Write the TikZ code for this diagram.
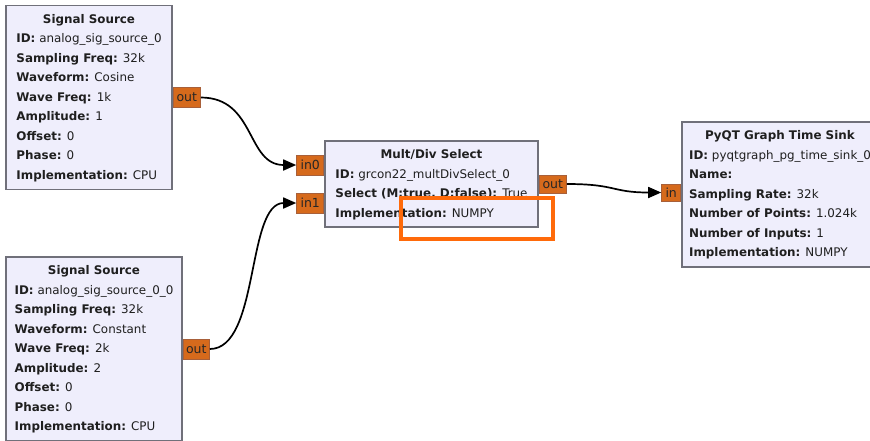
\documentclass[tikz,border=0pt]{standalone}
\usepackage{fontspec}
\setmainfont{DejaVu Sans}
\usetikzlibrary{positioning,arrows.meta}
\definecolor{blkfill}{RGB}{239,238,252}
\definecolor{blkline}{RGB}{112,112,122}
\definecolor{portfill}{RGB}{214,106,28}
\definecolor{portline}{RGB}{168,96,58}
\definecolor{hlcolor}{RGB}{255,106,10}
\newcommand{\prop}[2]{\textbf{#1:} #2}
\newcommand{\ttl}[1]{\multicolumn{1}{@{}c@{}}{\textbf{#1}}}
\tikzset{
  block/.style={rectangle,draw=blkline,fill=blkfill,line width=1.6pt,inner sep=0pt,text=black!88,font=\fontsize{11.9}{19.5}\selectfont},
  port/.style={rectangle,draw=portline,fill=portfill,line width=1pt,inner sep=0pt,minimum height=20pt,font=\fontsize{12.5}{13}\selectfont,text=black!85},
  edge/.style={-{Triangle[length=13pt,width=11pt]},line width=1.7pt},
  hlbox/.style={rectangle,draw=hlcolor,line width=4pt,inner sep=0pt}
}
\begin{document}
\begin{tikzpicture}[x=1pt,y=-1pt]
\useasboundingbox (0,0) rectangle (870,440);
\node[block,minimum width=166pt,minimum height=184pt] (src1) at (89,97.5) {\begin{tabular}{@{}l@{}}\ttl{Signal Source}\\ \prop{ID}{analog\_sig\_source\_0}\\ \prop{Sampling Freq}{32k}\\ \prop{Waveform}{Cosine}\\ \prop{Wave Freq}{1k}\\ \prop{Amplitude}{1}\\ \prop{Offset}{0}\\ \prop{Phase}{0}\\ \prop{Implementation}{CPU}\end{tabular}};
\node[block,minimum width=176pt,minimum height=184pt] (src2) at (94,349) {\begin{tabular}{@{}l@{}}\ttl{Signal Source}\\ \prop{ID}{analog\_sig\_source\_0\_0}\\ \prop{Sampling Freq}{32k}\\ \prop{Waveform}{Constant}\\ \prop{Wave Freq}{2k}\\ \prop{Amplitude}{2}\\ \prop{Offset}{0}\\ \prop{Phase}{0}\\ \prop{Implementation}{CPU}\end{tabular}};
\node[block,minimum width=213pt,minimum height=86pt] (mds) at (431.5,184) {\begin{tabular}{@{}l@{}}\ttl{Mult/Div Select}\\ \prop{ID}{grcon22\_multDivSelect\_0}\\ \prop{Select (M:true, D:false)}{True}\\ \prop{Implementation}{NUMPY}\end{tabular}};
\node[block,minimum width=196pt,minimum height=145pt] (sink) at (780,194.5) {\begin{tabular}{@{}l@{}}\ttl{PyQT Graph Time Sink}\\ \prop{ID}{pyqtgraph\_pg\_time\_sink\_0}\\ \prop{Name}{}\\ \prop{Sampling Rate}{32k}\\ \prop{Number of Points}{1.024k}\\ \prop{Number of Inputs}{1}\\ \prop{Implementation}{NUMPY}\end{tabular}};
\node[port,minimum width=27pt,right=0pt of src1] (out1) {out}; \node[port,minimum width=26pt,right=0pt of src2] (out2) {out};
\node[port,minimum width=27pt,left=0pt of mds,yshift=19pt] (in0) {in0}; \node[port,minimum width=27pt,left=0pt of mds,yshift=-19pt] (in1) {in1};
\node[port,minimum width=27pt,minimum height=18pt,right=0pt of mds] (out3) {out}; \node[port,minimum width=19pt,minimum height=17pt,left=0pt of sink,yshift=2pt] (in2) {in};
\draw[edge] (out1.east) .. controls +(55,0) and +(-50,0) .. (in0.west);
\draw[edge] (out2.east) .. controls +(50,0) and +(-50,0) .. (in1.west);
\draw[edge] (out3.east) .. controls +(50,0) and +(-50,0) .. (in2.west);
\node[hlbox,minimum width=152pt,minimum height=41pt] (hl) at (477,218.5) {};
\end{tikzpicture}
\end{document}
